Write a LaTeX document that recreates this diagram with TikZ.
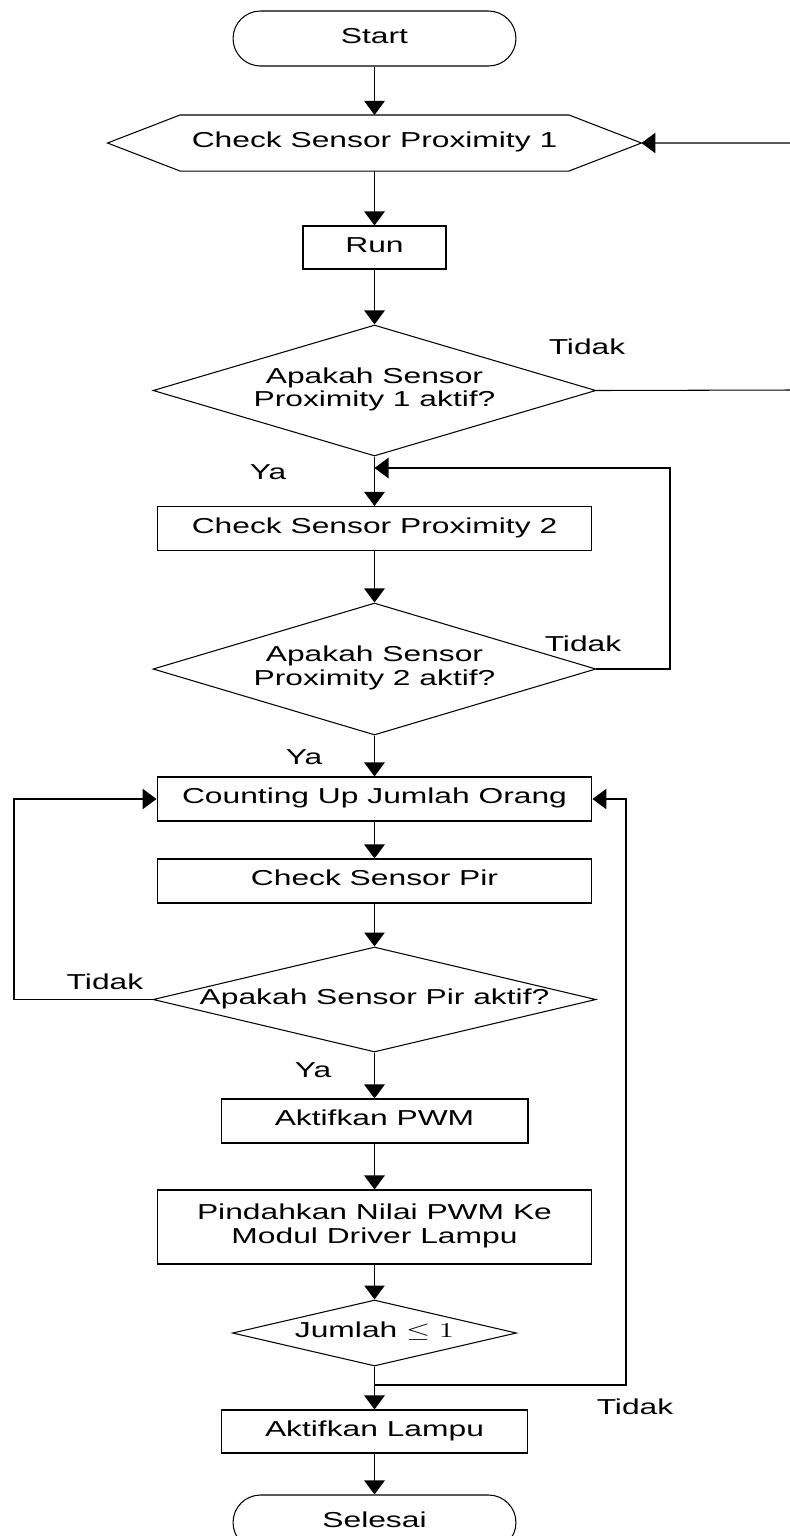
\documentclass[tikz,border=0pt]{standalone}
\usepackage{fontspec}
\setmainfont{Liberation Sans}
\usetikzlibrary{shapes.geometric,shapes.misc,arrows.meta}

% wide text, as in the drawing
\newcommand{\wtxt}[1]{\makebox[0pt]{\scalebox{1.47}[1]{\begin{tabular}{@{}c@{}}#1\end{tabular}}}}

\begin{document}
\begin{tikzpicture}[x=0.02cm, y=-0.02cm, >={Triangle[width=4.1mm,length=2.8mm]},
  line width=0.6pt,
  every node/.style={font=\fontsize{12.3}{13.4}\selectfont, inner sep=0pt},
  term/.style={draw, rounded rectangle, minimum width=5.66cm, minimum height=1.1cm},
  proc/.style={draw, rectangle, minimum width=8.7cm, minimum height=0.88cm},
  dec/.style={draw, diamond, minimum width=8.86cm}]
  \useasboundingbox (0,0) rectangle (789,1536);

  % Coordinates
  \coordinate (r1) at (792,390);
  \coordinate (r2) at (792,143);
  \coordinate (j1) at (374.5,468);
  \coordinate (l1) at (670,669);
  \coordinate (l2) at (670,468);
  \coordinate (l3) at (14,999.5);
  \coordinate (l4) at (14,799);
  \coordinate (b1) at (374.5,1385);
  \coordinate (r3) at (626,1385);
  \coordinate (r4) at (626,799);

  % Blocks
  \node[term] (start) at (374.5,38.5) {\wtxt{Start}};
  \node[minimum width=10.66cm, minimum height=1.1cm] (hex1) at (374.5,143) {\wtxt{Check Sensor Proximity 1}};
  \draw (hex1.west) -- ([xshift=1.45cm]hex1.north west) -- ([xshift=-1.45cm]hex1.north east)
    -- (hex1.east) -- ([xshift=-1.45cm]hex1.south east) -- ([xshift=1.45cm]hex1.south west) -- cycle;
  \node[proc, minimum width=2.86cm, minimum height=0.86cm] (run) at (374.5,247.5) {\wtxt{Run}};
  \node[dec, minimum height=2.62cm] (dec1) at (374.5,390.5) {\wtxt{Apakah Sensor\\Proximity 1 aktif?}};
  \node[proc] (prox2) at (374.5,528.5) {\wtxt{Check Sensor Proximity 2}};
  \node[dec, minimum height=2.64cm] (dec2) at (374.5,669) {\wtxt{Apakah Sensor\\Proximity 2 aktif?}};
  \node[proc] (count) at (374.5,799) {\wtxt{Counting Up Jumlah Orang}};
  \node[proc] (pir) at (374.5,881) {\wtxt{Check Sensor Pir}};
  \node[dec, minimum height=2.1cm] (dec3) at (374.5,999.5) {\wtxt{Apakah Sensor Pir aktif?}};
  \node[proc, minimum width=6.14cm] (pwm) at (374.5,1121) {\wtxt{Aktifkan PWM}};
  \node[proc, minimum height=1.48cm] (pindah) at (374.5,1227) {\wtxt{Pindahkan Nilai PWM Ke\\Modul Driver Lampu}};
  \node[dec, minimum width=5.68cm, minimum height=1.32cm] (dec4) at (374.5,1333) {\wtxt{Jumlah $\leq 1$}};
  \node[proc, minimum width=6.12cm, minimum height=0.86cm] (lamp) at (374.5,1431.5) {\wtxt{Aktifkan Lampu}};
  \node[term] (selesai) at (374.5,1522.5) {\wtxt{Selesai}};

  % Arrows
  \draw[->] (start) -- (hex1);
  \draw[->] (hex1) -- (run);
  \draw[->] (run) -- (dec1);
  \draw[->] (dec1.east) -- (r1) -- (r2) -- (hex1.east);
  \draw[->] (dec1) -- (prox2);
  \draw[->] (prox2) -- (dec2);
  \draw[->] (dec2.east) -- (l1) -- (l2) -- (j1);
  \draw[->] (dec2) -- (count);
  \draw[->] (count) -- (pir);
  \draw[->] (pir) -- (dec3);
  \draw[->] (dec3.west) -- (l3) -- (l4) -- (count.west);
  \draw[->] (dec3) -- (pwm);
  \draw[->] (pwm) -- (pindah);
  \draw[->] (pindah) -- (dec4);
  \draw[->] (dec4) -- (lamp);
  \draw[->] (b1) -- (r3) -- (r4) -- (count.east);
  \draw[->] (lamp) -- (selesai);

  % Labels
  \node (tidak1) at (587,350) {\wtxt{Tidak}};
  \node (ya1) at (268,475) {\wtxt{Ya}};
  \node (tidak2) at (583,647) {\wtxt{Tidak}};
  \node (ya2) at (304,760) {\wtxt{Ya}};
  \node (tidak3) at (105,985) {\wtxt{Tidak}};
  \node (ya3) at (313,1073) {\wtxt{Ya}};
  \node (tidak4) at (635,1410) {\wtxt{Tidak}};
\end{tikzpicture}
\end{document}
